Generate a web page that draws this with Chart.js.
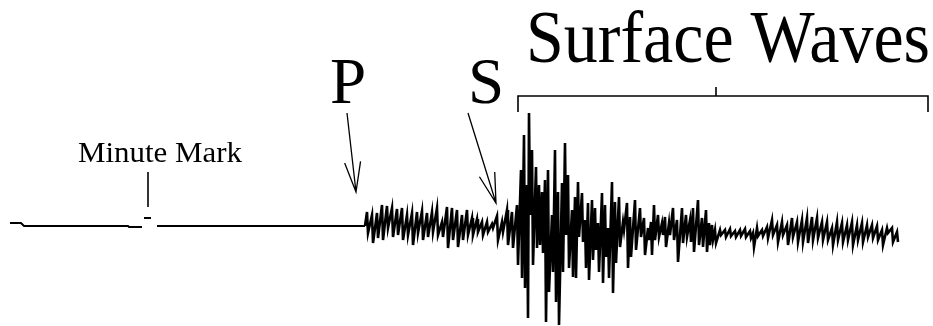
<!DOCTYPE html>
<html>
<head>
<meta charset="utf-8">
<script src="https://cdn.jsdelivr.net/npm/chart.js@4"></script>
<style>
  html, body { margin: 0; padding: 0; background: #fff; }
  #wrap { width: 933px; height: 326px; position: relative; }
</style>
</head>
<body>
<div id="wrap"><canvas id="seismo"></canvas></div>
<script>
// quiet trace before the P arrival (null = pen lift around the minute mark)
const baseTime = [10, 21, 24, 128, 129, 142, 143, 144, 151, 152, 157, 365];
const baseAmp = [3, 3, 0, 0, -1, -1, null, 8, 8, null, 0, 0];

// each stroke of the pen: time, top, bottom
const strokeTime = [
  367, 372, 377, 382, 387, 392, 397, 402, 407, 412, 417, 422, 427, 432,
  437, 442, 447, 452, 457, 462, 467, 472, 477, 482, 487, 492, 497, 502,
  507, 512, 517, 521, 524, 527, 529, 532, 536, 539, 542, 545, 548, 552,
  555, 558, 562, 565, 568, 572, 575, 578, 582, 585, 588, 592, 595, 598,
  602, 605, 608, 612, 615, 619, 623, 627, 630, 635, 640, 644, 648, 651,
  654, 658, 662, 665, 669, 673, 677, 682, 686, 690, 693, 698, 702, 706,
  709, 712, 715, 720, 725, 730, 735, 740, 745, 750, 753, 757, 762, 767,
  772, 777, 782, 787, 792, 797, 802, 807, 812, 817, 822, 827, 832, 837,
  842, 847, 852, 857, 862, 867, 872, 877, 882, 887, 892, 897,
];
const strokeHigh = [
  14, 11, 13, 21, 20, 18, 17, 18, 11, 13, 14, 15, 13, 14,
  18, 4, 19, 18, 16, 11, 16, 8, 7, 4, 4, 2, 10, 4,
  16, 14, 21, 56, 91, 41, 113, 76, 59, 41, 34, 46, 56, 11,
  76, 34, 43, 83, 51, 16, 29, 44, 33, 6, 23, 26, 18, 3,
  33, 21, -2, 44, 24, 29, 4, 23, 9, 26, 18, 8, -2, 4,
  21, 11, 3, 9, 3, 18, 6, 18, 11, 6, 18, 26, 8, 16,
  3, 1, -4, -4, -4, -3, -5, -4, -3, -5, -7, -2, -4, -1,
  6, 1, 4, 1, 8, 4, 6, 8, 9, 8, 4, 4, -2, 4,
  3, 1, 4, 1, 3, 1, 1, 0, -4, -2, -2, -6,
];
const strokeLow = [
  -7, -17, -12, -14, -2, -11, -9, -14, -9, -19, -7, -14, -11, -6,
  -9, -11, -22, -14, -21, -14, -9, -9, -6, -9, -6, -2, -14, -6,
  -19, -22, -39, -52, -62, -92, 11, -39, -22, -19, -27, -96, -66, -46,
  -76, -99, -46, -9, -42, -51, -52, -11, -16, -42, -54, -34, -24, -46,
  -57, -31, -52, -67, -37, -21, -4, -42, -31, -24, -11, -29, -14, -29,
  -14, -11, -9, -21, -9, -14, -36, -17, -11, -16, -26, -19, -21, -26,
  -19, -14, -17, -9, -11, -10, -11, -10, -11, -12, -21, -10, -10, -12,
  -9, -16, -9, -19, -11, -16, -16, -17, -14, -12, -14, -14, -19, -14,
  -16, -14, -19, -14, -16, -11, -12, -14, -19, -7, -16, -16,
];

const basePoints = baseTime.map((t, i) => ({ x: t, y: baseAmp[i] }));
const wavePoints = [{ x: 365, y: 0 }];
strokeTime.forEach((t, i) => {
  wavePoints.push({ x: t, y: strokeHigh[i] });
  wavePoints.push({ x: t + 1, y: strokeLow[i] });
});

const serif = '"Liberation Serif", "Times New Roman", serif';

// labels, arrows and the bracket, placed in data units
const notes = {
  texts: [
    { text: "Minute Mark", x: 78, y: 64, size: 29, width: 164 },
    { text: "P", x: 330, y: 123, size: 65 },
    { text: "S", x: 468, y: 123, size: 65 },
    { text: "Surface Waves", x: 526, y: 164, size: 75, width: 404 },
  ],
  lines: [
    [[148, 54], [148, 19]],
    [[518, 114], [518, 130], [928, 130], [928, 114]],
    [[716, 130], [716, 139]],
  ],
  arrows: [
    [[347, 113], [356, 34]],
    [[468, 113], [496, 23]],
  ],
};

const annotate = {
  id: "annotate",
  afterDatasetsDraw(chart) {
    const { ctx } = chart;
    const sx = chart.scales.x;
    const sy = chart.scales.y;
    const px = (p) => [sx.getPixelForValue(p[0]), sy.getPixelForValue(p[1])];

    ctx.save();
    ctx.strokeStyle = "#000";
    ctx.fillStyle = "#000";
    ctx.lineWidth = 1.6;

    notes.lines.forEach((pts) => {
      ctx.beginPath();
      pts.forEach((p, i) => {
        const [a, b] = px(p);
        if (i === 0) ctx.moveTo(a, b);
        else ctx.lineTo(a, b);
      });
      ctx.stroke();
    });

    notes.arrows.forEach(([from, to]) => {
      const [x0, y0] = px(from);
      const [x1, y1] = px(to);
      const len = Math.hypot(x1 - x0, y1 - y0);
      const ux = (x1 - x0) / len;
      const uy = (y1 - y0) / len;
      const bx = x1 - ux * 30;
      const by = y1 - uy * 30;
      ctx.lineWidth = 1.3;
      ctx.beginPath();
      ctx.moveTo(x0, y0);
      ctx.lineTo(x1, y1);
      ctx.moveTo(bx - uy * 8, by + ux * 8);
      ctx.lineTo(x1, y1);
      ctx.lineTo(bx + uy * 8, by - ux * 8);
      ctx.stroke();
    });

    ctx.textBaseline = "alphabetic";
    ctx.textAlign = "left";
    notes.texts.forEach((t) => {
      const [a, b] = px([t.x, t.y]);
      ctx.font = `${t.size}px ${serif}`;
      const k = t.width ? t.width / ctx.measureText(t.text).width : 1;
      ctx.save();
      ctx.translate(a, b);
      ctx.scale(k, 1);
      ctx.fillText(t.text, 0, 0);
      ctx.restore();
    });
    ctx.restore();
  },
};

new Chart(document.getElementById("seismo"), {
  type: "line",
  data: {
    datasets: [
      {
        data: basePoints,
        borderColor: "#000",
        borderWidth: 2,
        pointRadius: 0,
        tension: 0,
        spanGaps: false,
      },
      {
        data: wavePoints,
        borderColor: "#000",
        borderWidth: 2.6,
        pointRadius: 0,
        tension: 0,
      },
    ],
  },
  options: {
    responsive: true,
    maintainAspectRatio: false,
    animation: false,
    layout: { padding: 0 },
    plugins: { legend: { display: false }, tooltip: { enabled: false } },
    scales: {
      x: { type: "linear", min: 0, max: 933, display: false },
      y: { type: "linear", min: -100, max: 226, display: false },
    },
  },
  plugins: [annotate],
});
</script>
</body>
</html>
